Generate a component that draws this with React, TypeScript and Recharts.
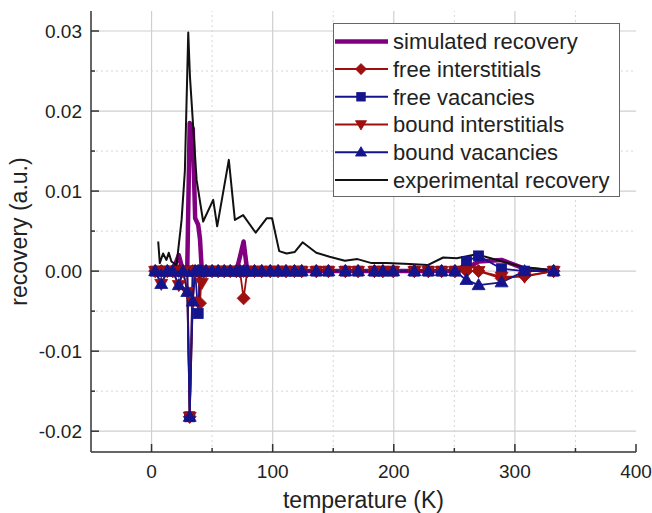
import React from 'react';
import { LineChart, Line, XAxis, YAxis, ReferenceLine, Legend } from 'recharts';

// ---------- data ----------
const temperatures = [
  3, 8, 13, 17.5, 22.5, 26, 29.5, 31.5, 34, 36,
  38.5, 40, 41.5, 45, 50, 55, 60, 65, 70, 73,
  76, 79, 85, 91, 98, 104.5, 111, 118, 124, 136,
  146, 160, 170.5, 184, 191, 199.5, 217, 228.5, 239.5, 250.5,
  260, 270, 289, 308, 332,
];

const simulatedRecovery = [
  0, 0, 0, 0, 0.002, 0, 0.0005, 0.0185, 0.0178, 0.0066,
  0.0058, 0.004, 0, 0, 0, 0, 0, 0, 0, 0.0018,
  0.0037, 0, 0, 0, 0, 0, 0, 0, 0, 0,
  0, 0, 0, 0, 0, 0, 0, 0, 0, 0,
  0.0003, 0.0012, 0.0014, 0.0003, 0,
];

const freeInterstitials = [
  0, 0, 0, 0, 0, 0, 0, -0.0182, 0, 0,
  0, -0.004, 0, 0, 0, 0, 0, 0, 0, 0,
  -0.0034, 0, 0, 0, 0, 0, 0, 0, 0, 0,
  0, 0, 0, 0, 0, 0, 0, 0, 0, 0,
  0, 0, -0.0009, -0.0006, 0,
];

const freeVacancies = [
  0, 0, 0, 0, 0, 0, 0, -0.0182, 0, 0,
  -0.0053, 0, 0, 0, 0, 0, 0, 0, 0, 0,
  0, 0, 0, 0, 0, 0, 0, 0, 0, 0,
  0, 0, 0, 0, 0, 0, 0, 0, 0, 0,
  0.0012, 0.0019, 0.0003, 0, 0,
];

const boundInterstitials = [
  0, -0.0016, 0, 0, -0.00175, 0, -0.0026, -0.0182, -0.0038, 0,
  0, 0, -0.0015, 0, 0, 0, 0, 0, 0, 0,
  0, 0, 0, 0, 0, 0, 0, 0, 0, 0,
  0, 0, 0, 0, 0, 0, 0, 0, 0, 0,
  0, 0, -0.0007, -0.0007, 0,
];

const boundVacancies = [
  0, -0.0016, 0, 0, -0.00175, 0, -0.0026, -0.0182, -0.0038, 0,
  0, 0, 0, 0, 0, 0, 0, 0, 0, 0,
  0, 0, 0, 0, 0, 0, 0, 0, 0, 0,
  0, 0, 0, 0, 0, 0, 0, 0, 0, 0,
  -0.0011, -0.00175, -0.0014, 0, 0,
];

const expTemperatures = [
  5.5, 6.8, 9.5, 12.3, 14.2, 16.4, 20.6, 24.8, 27.5, 30.3,
  31.7, 37.2, 42.6, 50.9, 54.2, 63.8, 68.8, 75.6, 86, 95,
  99.5, 105.4, 111.5, 118.3, 124.7, 136, 147, 159.6, 170, 181.7,
  194, 213, 228, 240.8, 251.9, 268.4, 287.6, 306.9, 331,
];

const expRecovery = [
  0.0037, 0.001, 0.0022, 0.0014, 0.0023, 0.0012, 0.00075, 0.0064, 0.0125, 0.0298,
  0.0243, 0.0114, 0.0062, 0.0089, 0.0056, 0.0139, 0.0064, 0.007, 0.0048, 0.0066,
  0.0066, 0.0025, 0.0022, 0.0024, 0.0036, 0.0023, 0.0018, 0.0013, 0.0015, 0.001,
  0.001, 0.0009, 0.00075, 0.0017, 0.0016, 0.0021, 0.0013, 0.0005, 0.0001,
];

const xTicks = [0, 50, 100, 150, 200, 250, 300, 350, 400];
const yTicks = [-0.02, -0.015, -0.01, -0.005, 0, 0.005, 0.01, 0.015, 0.02, 0.025, 0.03];
const xDomain = [-50, 400];
const yDomain = [-0.0226, 0.0325];

const xLabel = 'temperature (K)';
const yLabel = 'recovery (a.u.)';

// ---------- styles ----------
const FONT = '"Liberation Sans", Arial, Helvetica, sans-serif';
const PURPLE = '#800080';
const RED = '#9e0f0f';
const BLUE = '#14148c';
const BLACK = '#111111';
const AXIS = '#333333';
const TEXT = '#222222';

type Shape = 'diamond' | 'square' | 'down' | 'up' | null;

const seriesDefs: { name: string; color: string; width: number; shape: Shape; values: number[]; temps: number[] }[] = [
  { name: 'simulated recovery', color: PURPLE, width: 4.5, shape: null, values: simulatedRecovery, temps: temperatures },
  { name: 'free interstitials', color: RED, width: 1.8, shape: 'diamond', values: freeInterstitials, temps: temperatures },
  { name: 'free vacancies', color: BLUE, width: 1.8, shape: 'square', values: freeVacancies, temps: temperatures },
  { name: 'bound interstitials', color: RED, width: 1.8, shape: 'down', values: boundInterstitials, temps: temperatures },
  { name: 'bound vacancies', color: BLUE, width: 1.8, shape: 'up', values: boundVacancies, temps: temperatures },
  { name: 'experimental recovery', color: BLACK, width: 2, shape: null, values: expRecovery, temps: expTemperatures },
];

function MarkerShape({ shape, cx, cy, color, s = 1 }: { shape: Shape; cx: number; cy: number; color: string; s?: number }) {
  if (shape === 'diamond') {
    const r = 6.5 * s;
    return <polygon points={`${cx},${cy - r} ${cx + r},${cy} ${cx},${cy + r} ${cx - r},${cy}`} fill={color} stroke={color} strokeWidth={0.8} />;
  }
  if (shape === 'square') {
    const r = 5 * s;
    return <rect x={cx - r} y={cy - r} width={2 * r} height={2 * r} fill={color} stroke={color} strokeWidth={0.8} />;
  }
  if (shape === 'down') {
    const a = 6.5 * s;
    return <polygon points={`${cx - a},${cy - a * 0.7} ${cx + a},${cy - a * 0.7} ${cx},${cy + a}`} fill={color} stroke={color} strokeWidth={0.8} />;
  }
  if (shape === 'up') {
    const a = 6.5 * s;
    return <polygon points={`${cx - a},${cy + a * 0.7} ${cx + a},${cy + a * 0.7} ${cx},${cy - a}`} fill={color} stroke={color} strokeWidth={0.8} />;
  }
  return null;
}

const isMajorX = (v: number) => v % 100 === 0;
const isMajorY = (v: number) => Math.abs(v * 100 - Math.round(v * 100)) < 1e-9;

function BottomTick(props: any) {
  const { x, y, payload } = props;
  const major = isMajorX(payload.value);
  return (
    <g>
      <line x1={x} x2={x} y1={y} y2={y - (major ? 8 : 4)} stroke={AXIS} strokeWidth={1.5} />
      {major && (
        <text x={x} y={y + 26} textAnchor="middle" fontSize={19} fontFamily={FONT} fill={TEXT}>
          {payload.value}
        </text>
      )}
    </g>
  );
}

function TopTick(props: any) {
  const { x, y, payload } = props;
  const major = isMajorX(payload.value);
  return <line x1={x} x2={x} y1={y} y2={y + (major ? 8 : 4)} stroke={AXIS} strokeWidth={1.5} />;
}

function LeftTick(props: any) {
  const { x, y, payload } = props;
  const major = isMajorY(payload.value);
  return (
    <g>
      <line x1={x} x2={x + (major ? 8 : 4)} y1={y} y2={y} stroke={AXIS} strokeWidth={1.5} />
      {major && (
        <text x={x - 9} y={y} dy="0.36em" textAnchor="end" fontSize={19} fontFamily={FONT} fill={TEXT}>
          {payload.value.toFixed(2)}
        </text>
      )}
    </g>
  );
}

function RightTick(props: any) {
  const { x, y, payload } = props;
  const major = isMajorY(payload.value);
  return <line x1={x} x2={x - (major ? 8 : 4)} y1={y} y2={y} stroke={AXIS} strokeWidth={1.5} />;
}

function LegendBox() {
  const w = 287;
  const h = 174;
  const rowH = 27.7;
  return (
    <svg width={w} height={h} style={{ display: 'block' }}>
      <rect x={0.5} y={0.5} width={w - 1} height={h - 1} fill="#ffffff" stroke="#666" strokeWidth={1} />
      {seriesDefs.map((s, i) => {
        const cy = 18.4 + i * rowH;
        return (
          <g key={s.name}>
            <line x1={2} x2={55} y1={cy} y2={cy} stroke={s.color} strokeWidth={s.width === 4.5 ? 4.5 : 2} />
            <MarkerShape shape={s.shape} cx={28} cy={cy} color={s.color} s={0.85} />
            <text x={60} y={cy} dy="0.36em" fontSize={22} fontFamily={FONT} fill={TEXT}>
              {s.name}
            </text>
          </g>
        );
      })}
    </svg>
  );
}

export default function App() {
  const xMajor = xTicks.filter(isMajorX).filter((v) => v < 400);
  const xMinor = xTicks.filter((v) => !isMajorX(v));
  const yMajor = yTicks.filter(isMajorY);
  const yMinor = yTicks.filter((v) => !isMajorY(v));

  return (
    <div style={{ position: 'fixed', left: 0, top: 0, width: 652, height: 513, background: '#fff' }}>
      <LineChart width={652} height={513} margin={{ top: 11, right: 16, bottom: 0, left: 0 }}>
        <XAxis
          dataKey="t"
          type="number"
          domain={xDomain}
          ticks={xTicks}
          interval={0}
          allowDataOverflow
          height={61}
          axisLine={{ stroke: AXIS, strokeWidth: 1.5 }}
          tickLine={false}
          tickSize={0}
          tickMargin={0}
          tick={BottomTick}
          label={{ value: xLabel, position: 'insideBottom', offset: 5, style: { fontSize: 23, fill: TEXT, fontFamily: FONT } }}
        />
        <XAxis
          xAxisId="top"
          orientation="top"
          type="number"
          domain={xDomain}
          ticks={xTicks}
          interval={0}
          allowDataOverflow
          height={0}
          axisLine={{ stroke: AXIS, strokeWidth: 1.5 }}
          tickLine={false}
          tickSize={0}
          tickMargin={0}
          tick={TopTick}
        />
        <YAxis
          type="number"
          domain={yDomain}
          ticks={yTicks}
          interval={0}
          allowDataOverflow
          width={91}
          axisLine={{ stroke: AXIS, strokeWidth: 1.5 }}
          tickLine={false}
          tickSize={0}
          tickMargin={0}
          tick={LeftTick}
          label={{ value: yLabel, angle: -90, position: 'insideLeft', offset: 19, style: { textAnchor: 'middle', fontSize: 23, fill: TEXT, fontFamily: FONT } }}
        />
        <YAxis
          yAxisId="right"
          orientation="right"
          type="number"
          domain={yDomain}
          ticks={yTicks}
          interval={0}
          allowDataOverflow
          width={0}
          axisLine={{ stroke: AXIS, strokeWidth: 1.5 }}
          tickLine={false}
          tickSize={0}
          tickMargin={0}
          tick={RightTick}
        />

        {xMajor.map((v) => (
          <ReferenceLine key={`xM${v}`} x={v} stroke="#cfcfcf" strokeWidth={1.2} />
        ))}
        {xMinor.map((v) => (
          <ReferenceLine key={`xm${v}`} x={v} stroke="#d6d6d6" strokeWidth={1} strokeDasharray="2 3" />
        ))}
        {yMajor.map((v) => (
          <ReferenceLine key={`yM${v}`} y={v} stroke="#cfcfcf" strokeWidth={1.2} />
        ))}
        {yMinor.map((v) => (
          <ReferenceLine key={`ym${v}`} y={v} stroke="#d6d6d6" strokeWidth={1} strokeDasharray="2 3" />
        ))}

        {seriesDefs.map((s) => (
          <Line
            key={s.name}
            name={s.name}
            data={s.temps.map((t, i) => ({ t, v: s.values[i] }))}
            dataKey="v"
            type="linear"
            stroke={s.color}
            strokeWidth={s.width}
            strokeLinejoin="round"
            isAnimationActive={false}
            activeDot={false}
            dot={
              s.shape
                ? (p: any) => <MarkerShape key={`${s.name}-${p.index}`} shape={s.shape} cx={p.cx} cy={p.cy} color={s.color} />
                : false
            }
          />
        ))}

        <Legend
          layout="vertical"
          align="center"
          verticalAlign="middle"
          content={() => <LegendBox />}
          wrapperStyle={{ position: 'absolute', left: 333, top: 23, width: 287, height: 174 }}
        />
      </LineChart>
    </div>
  );
}
